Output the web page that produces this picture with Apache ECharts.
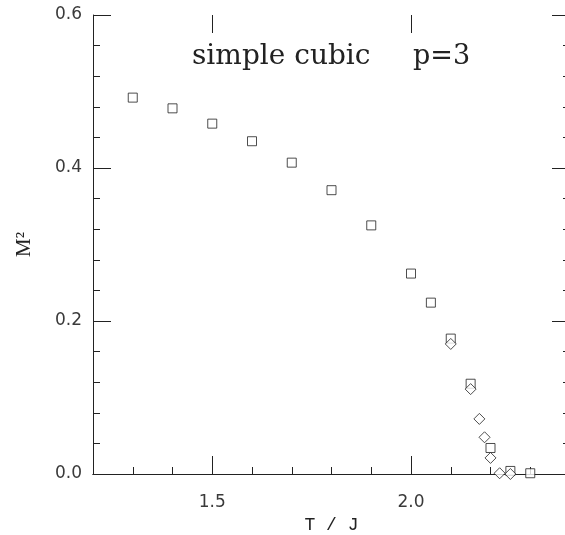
<!DOCTYPE html>
<html>
<head>
<meta charset="utf-8">
<script src="https://cdn.jsdelivr.net/npm/echarts@6/dist/echarts.min.js"></script>
<style>
html,body{margin:0;padding:0;background:#fff;}
#chart{width:565px;height:535px;}
</style>
</head>
<body>
<div id="chart"></div>
<script>
// Data
const squareT  = [1.3, 1.4, 1.5, 1.6, 1.7, 1.8, 1.9, 2.0, 2.05, 2.1, 2.15, 2.2, 2.25, 2.3];
const squareM2 = [0.492, 0.478, 0.458, 0.435, 0.407, 0.371, 0.325, 0.262, 0.224, 0.177, 0.118, 0.034, 0.004, 0.001];
const diamondT  = [2.1, 2.15, 2.172, 2.185, 2.2, 2.223, 2.25];
const diamondM2 = [0.170, 0.111, 0.072, 0.048, 0.021, 0.001, 0.0];
const xMajorTicks = [1.5, 2.0];
const xTickLabels = [1.5, 2.0];
const yTickLabels = [0.0, 0.2, 0.4, 0.6];
const titleLeft = 'simple cubic';
const titleRight = 'p=3';
const xName = 'T / J';
const yName = 'M\u00B2';

const ink = '#222';
const labelFont = {fontFamily: 'DejaVu Sans', fontSize: 17, color: '#3a3a3a'};

function baseX(extra, tickColor, tickInside) {
  return Object.assign({
    type: 'value', min: 1.2, max: 2.4, interval: 0.1,
    axisLine: {show: true, lineStyle: {color: ink, width: 1}},
    axisTick: {show: true, inside: tickInside !== false, length: 7, lineStyle: {color: tickColor}},
    axisLabel: {show: false},
    splitLine: {show: false}
  }, extra);
}

const chart = echarts.init(document.getElementById('chart'), null, {renderer: 'canvas'});
chart.setOption({
  backgroundColor: '#fff',
  animation: false,
  grid: {left: 93, top: 15, right: -5, bottom: 61, containLabel: false, outerBoundsMode: 'none'},
  xAxis: [
    baseX({
      position: 'bottom',
      name: xName, nameLocation: 'middle', nameGap: 40,
      nameTextStyle: {fontFamily: 'Liberation Mono', fontSize: 18, color: ink},
      axisLabel: Object.assign({show: true, margin: 20, customValues: xTickLabels,
        formatter: v => Number(v).toFixed(1)}, labelFont)
    }, ink),
    baseX({position: 'top'}, ink, false),
    baseX({position: 'bottom', axisLine: {show: false},
      axisTick: {show: true, inside: true, length: 18, customValues: xMajorTicks, lineStyle: {color: ink}}}),
    baseX({position: 'top', axisLine: {show: false},
      axisTick: {show: true, inside: true, length: 18, customValues: xMajorTicks, lineStyle: {color: ink}}})
  ],
  yAxis: [
    {
      type: 'value', min: 0, max: 0.6, interval: 0.2, position: 'left',
      name: yName, nameLocation: 'middle', nameGap: 58, nameRotate: 90,
      nameTextStyle: {fontFamily: 'Liberation Serif', fontSize: 21, color: ink},
      axisLine: {show: true, lineStyle: {color: ink}},
      axisTick: {show: true, inside: true, length: 18, lineStyle: {color: ink}},
      minorTick: {show: true, splitNumber: 5, length: 7, lineStyle: {color: ink}},
      axisLabel: Object.assign({show: true, margin: 11, customValues: yTickLabels,
        formatter: v => Number(v).toFixed(1)}, labelFont),
      splitLine: {show: false}, minorSplitLine: {show: false}
    },
    {
      type: 'value', min: 0, max: 0.6, interval: 0.2, position: 'right',
      axisLine: {show: true, lineStyle: {color: ink}},
      axisTick: {show: true, inside: true, length: 18, lineStyle: {color: ink}},
      minorTick: {show: true, splitNumber: 5, length: 7, lineStyle: {color: ink}},
      axisLabel: {show: false},
      splitLine: {show: false}, minorSplitLine: {show: false}
    }
  ],
  graphic: [
    {type: 'text', left: 192, top: 43, style: {text: titleLeft, font: '28px "DejaVu Serif"', fill: ink}},
    {type: 'text', left: 413, top: 43, style: {text: titleRight, font: '27px "DejaVu Serif"', fill: ink}}
  ],
  series: [
    {
      type: 'scatter', xAxisIndex: 0, yAxisIndex: 0, clip: false,
      symbol: 'rect', symbolSize: 9,
      itemStyle: {color: '#fff', borderColor: ink, borderWidth: 1},
      data: squareT.map((t, i) => [t, squareM2[i]])
    },
    {
      type: 'scatter', xAxisIndex: 0, yAxisIndex: 0, clip: false,
      symbol: 'diamond', symbolSize: 11,
      itemStyle: {color: '#fff', borderColor: ink, borderWidth: 1},
      data: diamondT.map((t, i) => [t, diamondM2[i]])
    }
  ]
});
</script>
</body>
</html>
